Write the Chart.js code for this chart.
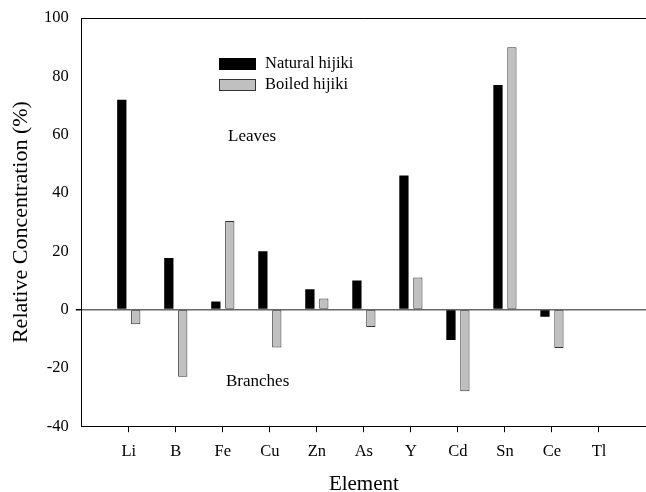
<!DOCTYPE html>
<html>
<head>
<meta charset="utf-8">
<script src="https://cdn.jsdelivr.net/npm/chart.js@4/dist/chart.umd.min.js"></script>
<style>
  html, body { margin: 0; padding: 0; background: #fff; overflow: hidden; }
  #wrap { width: 656px; height: 492px; }
</style>
</head>
<body>
<div id="wrap"><canvas id="myChart"></canvas></div>
<script>
// elements (empty slots at both ends keep the axis running past Li and Tl)
const elements = ["", "Li", "B", "Fe", "Cu", "Zn", "As", "Y", "Cd", "Sn", "Ce", "Tl", ""];
const natural = [null, 72, 17.7, 2.8, 20, 7, 10, 46, -10.4, 77, -2.5, null, null];
const boiled = [null, -5, -23, 30.4, -13, 3.8, -6, 11, -28, 90, -13.2, null, null];
const yTicks = [-40, -20, 0, 20, 40, 60, 80, 100];

const serif = "'Liberation Serif', 'Times New Roman', serif";

// legend + annotations drawn inside the plot, plus the top frame line
const extras = {
  id: "extras",
  afterDraw(chart) {
    const c = chart.ctx;
    const a = chart.chartArea;
    c.save();
    c.strokeStyle = "#000";
    c.lineWidth = 1;
    c.beginPath();
    c.moveTo(a.left, a.top + 0.5);
    c.lineTo(a.right, a.top + 0.5);
    c.stroke();

    // legend
    c.fillStyle = "#000";
    c.fillRect(219, 58, 37, 12);
    c.fillStyle = "#c0c0c0";
    c.fillRect(219.5, 79.5, 36, 11);
    c.strokeStyle = "#333";
    c.strokeRect(219.5, 79.5, 36, 11);

    c.fillStyle = "#000";
    c.font = "16.5px " + serif;
    c.textBaseline = "middle";
    c.textAlign = "left";
    c.fillText("Natural hijiki", 265, 64);
    c.fillText("Boiled hijiki", 265, 85);

    c.font = "17px " + serif;
    c.fillText("Leaves", 228, 137);
    c.fillText("Branches", 226, 382);
    c.restore();
  },
};

const ctx = document.getElementById("myChart").getContext("2d");
new Chart(ctx, {
  type: "bar",
  data: {
    labels: elements,
    datasets: [
      {
        label: "Natural hijiki",
        data: natural,
        backgroundColor: "#000",
        borderWidth: 0,
        barPercentage: 0.665,
        categoryPercentage: 0.593,
      },
      {
        label: "Boiled hijiki",
        data: boiled,
        backgroundColor: "#c0c0c0",
        borderColor: "#333",
        borderWidth: 1,
        borderSkipped: false,
        barPercentage: 0.665,
        categoryPercentage: 0.593,
      },
    ],
  },
  options: {
    responsive: true,
    maintainAspectRatio: false,
    animation: false,
    layout: { padding: { top: 18, left: 0, right: 0, bottom: 0 } },
    scales: {
      x: {
        offset: false,
        border: { display: true, color: "#000", width: 1 },
        grid: {
          offset: false,
          drawOnChartArea: false,
          tickLength: 6,
          tickColor: (c) => (c.index === 0 || c.index === elements.length - 1 ? "rgba(0,0,0,0)" : "#000"),
        },
        ticks: {
          color: "#000",
          padding: 10,
          autoSkip: false,
          maxRotation: 0,
          font: { family: serif, size: 16.5 },
        },
        title: {
          display: true,
          text: "Element",
          color: "#000",
          font: { family: serif, size: 21, lineHeight: 1 },
          padding: { top: 2, bottom: -3 },
        },
      },
      y: {
        min: -40,
        max: 100,
        afterBuildTicks: (axis) => {
          axis.ticks = yTicks.map((v) => ({ value: v }));
        },
        border: { display: true, color: "#000", width: 1 },
        grid: {
          drawOnChartArea: true,
          color: (c) => (c.tick && c.tick.value === 0 ? "#666" : "rgba(0,0,0,0)"),
          lineWidth: (c) => (c.tick && c.tick.value === 0 ? 1.5 : 0),
          tickColor: "#000",
          tickLength: 6,
        },
        ticks: {
          color: "#000",
          padding: 7,
          font: { family: serif, size: 16.5 },
        },
        title: {
          display: true,
          text: "Relative Concentration (%)",
          color: "#000",
          font: { family: serif, size: 22, lineHeight: 1 },
          padding: { top: 10, bottom: 5 },
        },
      },
    },
    plugins: {
      legend: { display: false },
      tooltip: { enabled: false },
    },
  },
  plugins: [extras],
});
</script>
</body>
</html>
